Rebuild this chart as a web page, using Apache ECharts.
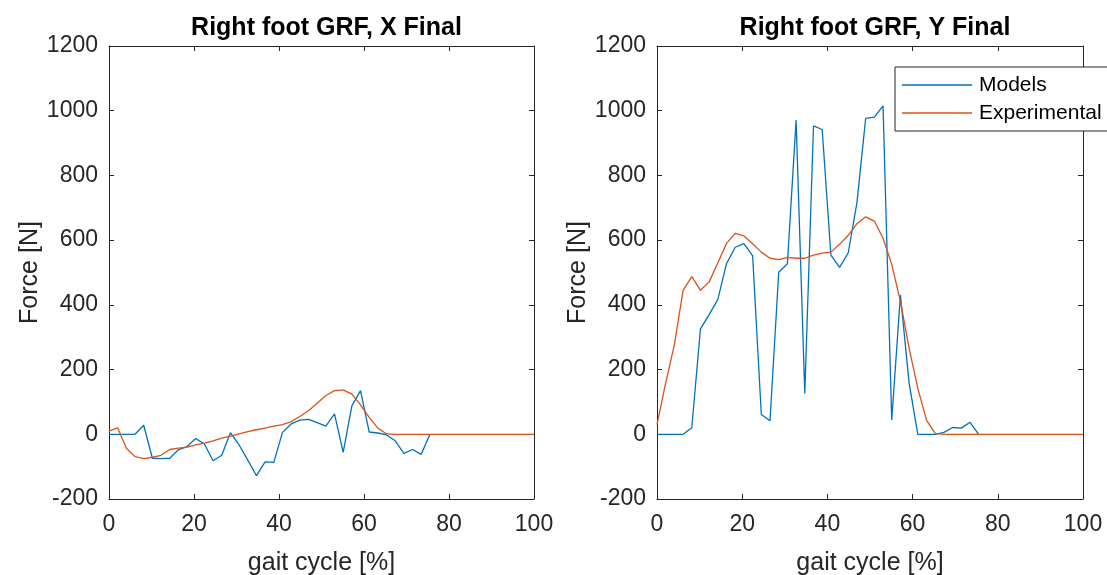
<!DOCTYPE html>
<html>
<head>
<meta charset="utf-8">
<title>Right foot GRF</title>
<script src="https://cdn.jsdelivr.net/npm/echarts@6/dist/echarts.min.js"></script>
<style>
  html, body { margin: 0; padding: 0; background: #ffffff; }
  #chart { width: 1107px; height: 575px; }
</style>
</head>
<body>
<div id="chart"></div>
<script>
// Gait cycle is sampled at 50 evenly spaced points from 0 to 100 %
const sampleCount = 50;
const gaitCycle = Array.from({ length: sampleCount }, (_, i) => i * 100 / (sampleCount - 1));

// Ground reaction force, X component [N]
const modelX = [0, 0, 0, 0, 28, -74, -75, -74, -48, -38,
  -13, -30, -82, -65, 5, -33, -80, -128, -85, -87,
  6, 32, 44, 46, 36, 25, 63, -56, 88, 135,
  7, 4, -2, -20, -59, -47, -62, 0];
const experimentalX = [10, 20, -43, -69, -75, -71, -65, -47, -43, -40,
  -33, -27, -20, -12, -6, 1, 8, 14, 19, 25,
  30, 39, 55, 73, 96, 120, 135, 137, 124, 91,
  52, 19, 1, 0, 0, 0, 0, 0, 0, 0,
  0, 0, 0, 0, 0, 0, 0, 0, 0, 0];

// Ground reaction force, Y component [N]
const modelY = [0, 0, 0, 0, 20, 326, 370, 417, 528, 578,
  589, 551, 61, 42, 501, 527, 971, 126, 953, 942,
  554, 516, 561, 716, 976, 980, 1015, 44, 431, 158,
  0, 0, 0, 6, 21, 19, 37, 0];
const experimentalY = [30, 159, 277, 445, 487, 445, 471, 530, 590, 621,
  613, 589, 563, 544, 540, 547, 544, 544, 554, 560,
  563, 587, 615, 651, 672, 659, 606, 525, 411, 266,
  142, 44, 3, 0, 0, 0, 0, 0, 0, 0,
  0, 0, 0, 0, 0, 0, 0, 0, 0, 0];

const xTicks = { min: 0, max: 100, interval: 20 };
const yTicks = { min: -200, max: 1200, interval: 200 };
const titles = ['Right foot GRF, X Final', 'Right foot GRF, Y Final'];
const seriesNames = ['Models', 'Experimental'];

const pair = (values) => values.map((v, i) => [gaitCycle[i], v]);

const BLUE = '#0072BD';
const ORANGE = '#D95319';
const INK = '#262626';
const FONT = '"Liberation Sans", Arial, Helvetica, sans-serif';

const grids = [
  { left: 109, top: 46, width: 425, height: 453, outerBoundsMode: 'none', containLabel: false },
  { left: 657, top: 46, width: 426, height: 453, outerBoundsMode: 'none', containLabel: false }
];

const plainNumber = (v) => String(v);

const xAxes = [];
const yAxes = [];
grids.forEach((g, gi) => {
  // bottom axis with labels
  xAxes.push({
    gridIndex: gi, type: 'value', position: 'bottom',
    min: xTicks.min, max: xTicks.max, interval: xTicks.interval,
    name: 'gait cycle [%]', nameLocation: 'middle', nameGap: 52,
    nameTextStyle: { color: INK, fontSize: 25, fontFamily: FONT },
    axisLine: { show: true, onZero: false, lineStyle: { color: INK, width: 1 } },
    axisTick: { show: true, inside: true, length: 5, lineStyle: { color: INK } },
    axisLabel: { color: INK, fontSize: 23, fontFamily: FONT, margin: 14, formatter: plainNumber },
    splitLine: { show: false }
  });
  // top edge of the box
  xAxes.push({
    gridIndex: gi, type: 'value', position: 'top',
    min: xTicks.min, max: xTicks.max, interval: xTicks.interval,
    axisLine: { show: true, onZero: false, lineStyle: { color: INK, width: 1 } },
    axisTick: { show: true, inside: true, length: 5, lineStyle: { color: INK } },
    axisLabel: { show: false },
    splitLine: { show: false }
  });
  // left axis with labels
  yAxes.push({
    gridIndex: gi, type: 'value', position: 'left',
    min: yTicks.min, max: yTicks.max, interval: yTicks.interval,
    name: 'Force [N]', nameLocation: 'middle', nameGap: 61,
    nameTextStyle: { color: INK, fontSize: 25, fontFamily: FONT },
    axisLine: { show: true, onZero: false, lineStyle: { color: INK, width: 1 } },
    axisTick: { show: true, inside: true, length: 5, lineStyle: { color: INK } },
    axisLabel: { color: INK, fontSize: 23, fontFamily: FONT, margin: 11, formatter: plainNumber },
    splitLine: { show: false }
  });
  // right edge of the box
  yAxes.push({
    gridIndex: gi, type: 'value', position: 'right',
    min: yTicks.min, max: yTicks.max, interval: yTicks.interval,
    axisLine: { show: true, onZero: false, lineStyle: { color: INK, width: 1 } },
    axisTick: { show: true, inside: true, length: 5, lineStyle: { color: INK } },
    axisLabel: { show: false },
    splitLine: { show: false }
  });
});

const lineSeries = (name, values, color, gi, z) => ({
  name, type: 'line',
  xAxisIndex: gi * 2, yAxisIndex: gi * 2,
  data: pair(values),
  showSymbol: false, symbol: 'none',
  lineStyle: { color, width: 1.3 },
  itemStyle: { color },
  z
});

const option = {
  animation: false,
  backgroundColor: '#ffffff',
  title: titles.map((t, gi) => ({
    text: t,
    left: grids[gi].left + grids[gi].width / 2,
    top: 11,
    textAlign: 'center',
    textStyle: { color: '#000000', fontSize: 25, fontWeight: 'bold', fontFamily: FONT }
  })),
  grid: grids,
  xAxis: xAxes,
  yAxis: yAxes,
  legend: {
    data: seriesNames.map((n) => ({ name: n, icon: 'rect' })),
    orient: 'vertical',
    left: 895, top: 67,
    padding: [6, 12, 6, 7],
    itemWidth: 70, itemHeight: 1.5, itemGap: 4,
    backgroundColor: '#ffffff',
    borderColor: INK, borderWidth: 1,
    textStyle: { color: '#000000', fontSize: 21, fontFamily: FONT, lineHeight: 24, padding: [0, 0, 0, 2] },
    selectedMode: false
  },
  series: [
    lineSeries(seriesNames[0], modelX, BLUE, 0, 2),
    lineSeries(seriesNames[1], experimentalX, ORANGE, 0, 3),
    lineSeries(seriesNames[0], modelY, BLUE, 1, 2),
    lineSeries(seriesNames[1], experimentalY, ORANGE, 1, 3)
  ]
};

const chart = echarts.init(document.getElementById('chart'), null, { renderer: 'canvas' });
chart.setOption(option);
</script>
</body>
</html>
